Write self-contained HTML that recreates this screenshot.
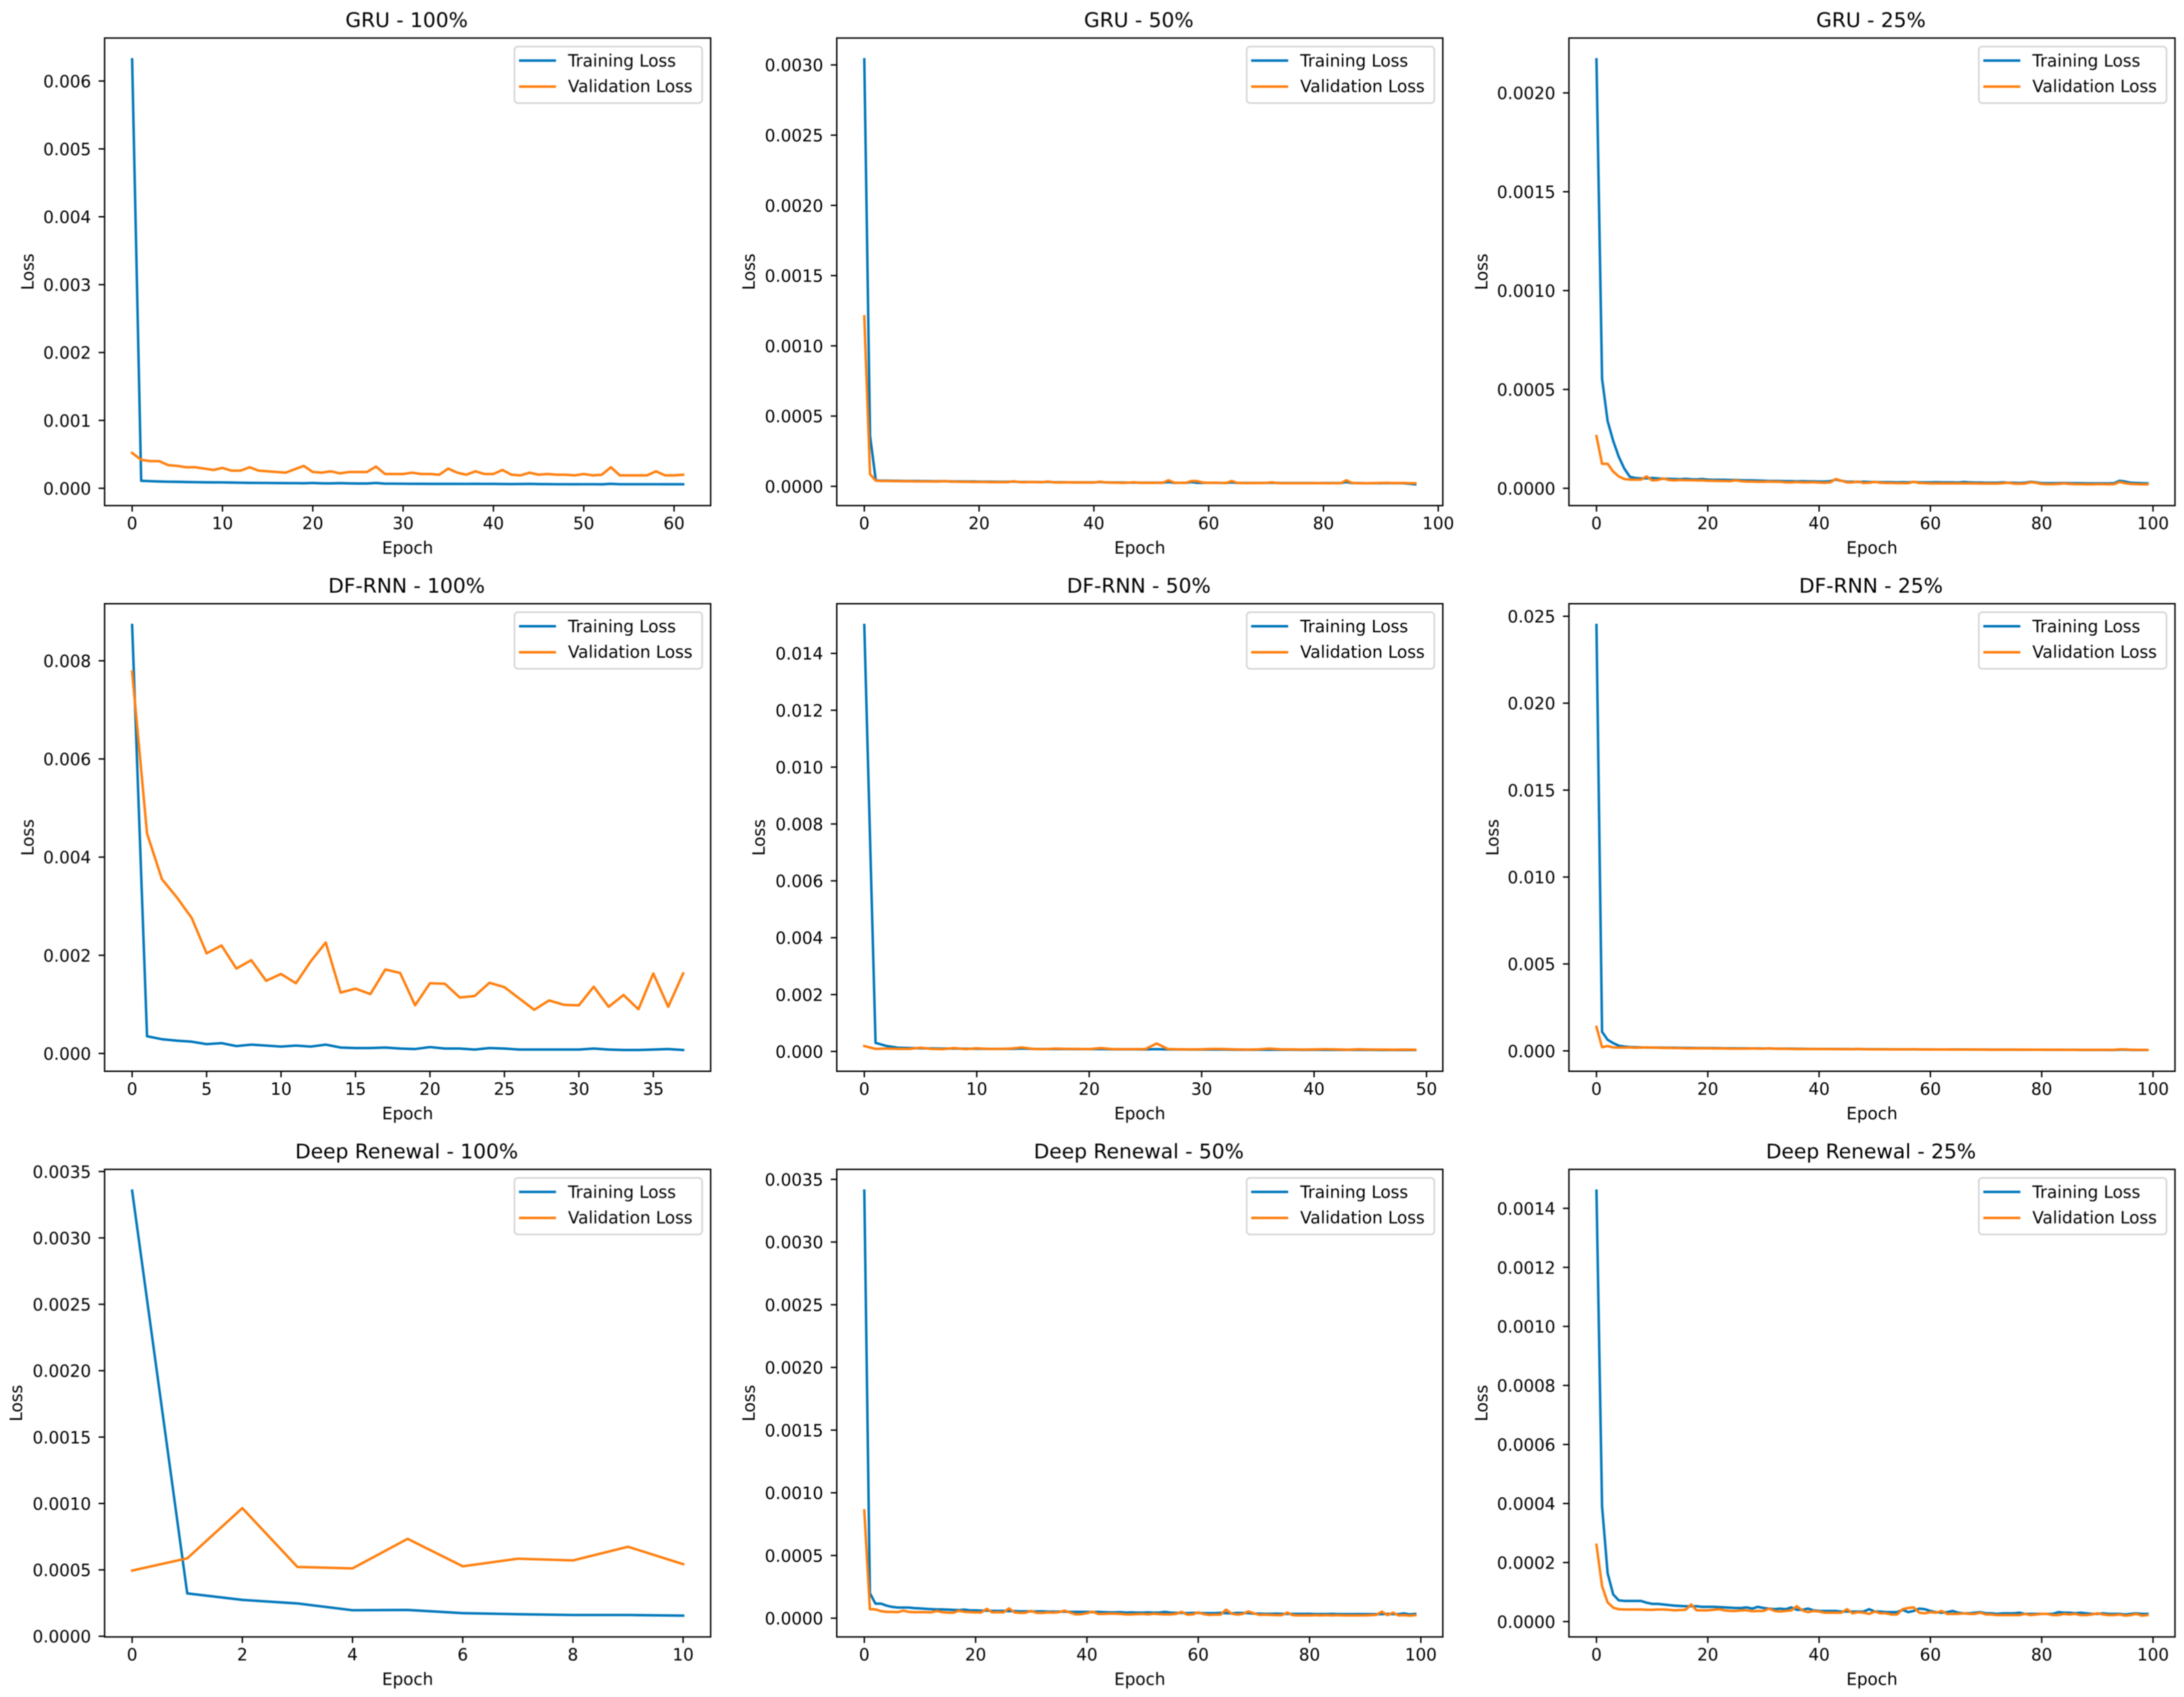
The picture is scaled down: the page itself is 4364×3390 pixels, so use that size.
<!DOCTYPE html>
<html lang="en">
<head>
<meta charset="utf-8">
<title>Training and Validation Loss</title>
<style>
html,body{margin:0;padding:0;background:#fff;}
#chart{display:block;width:4364px;height:3390px;background:#fff;filter:blur(1px);}
text{font-family:"DejaVu Sans","Liberation Sans",sans-serif;fill:#000;}
</style>
</head>
<body>
<svg id="chart" xmlns="http://www.w3.org/2000/svg" width="4364" height="3390" viewBox="0 0 4364 3390"></svg>
<script>
// Loss values are in units of 1e-6.
const UNIT = 1e-6;

const gru100Train = [6320,110,105,100,97,95,92,90,88,87,
86,84,82,80,79,78,77,76,75,74,
78,73,72,76,72,70,70,78,68,68,
67,66,66,65,65,65,65,64,66,64,
65,63,62,63,65,62,61,60,60,59,
60,60,58,66,60,60,60,60,60,59,
59,59];
const gru100Val = [520,420,400,400,340,330,310,310,290,270,
300,260,260,310,260,250,240,230,280,330,
240,230,250,220,240,240,240,320,210,210,
210,230,210,210,200,290,230,200,250,210,
210,270,200,190,230,200,210,200,200,190,
210,190,200,310,190,190,190,190,250,190,
190,200];

const gru50Train = [3040,360,42,40,40,39,39,38,38,38,
37,37,36,36,37,35,35,35,34,34,
33,33,33,32,32,32,34,31,31,31,
31,30,32,29,29,29,28,28,28,28,
28,31,28,27,27,27,26,27,26,26,
26,26,26,30,25,25,25,30,25,25,
25,25,24,24,28,24,24,24,24,24,
24,25,24,23,23,23,23,23,23,23,
23,23,23,23,30,23,23,22,22,22,
22,23,22,22,22,18,14];
const gru50Val = [1210,86,40,38,38,37,37,36,36,35,
35,35,34,34,38,33,33,32,32,31,
31,31,30,30,30,30,36,30,29,31,
30,29,34,28,27,28,28,27,28,27,
27,33,28,26,26,25,26,29,25,25,
25,25,25,43,26,25,24,38,37,27,
24,26,24,23,38,24,23,23,23,23,
24,28,23,22,22,22,22,22,22,23,
22,22,22,22,43,24,22,22,22,23,
24,25,23,23,24,22,22];

const gru25Train = [2170,554,340,240,160,100,58,52,50,50,
52,50,48,48,47,46,48,46,45,47,
44,43,43,43,42,42,41,40,40,39,
38,37,37,37,36,36,35,36,35,35,
34,34,36,44,38,33,33,32,33,32,
32,31,31,31,30,31,30,32,30,30,
30,31,30,30,30,29,32,30,29,29,
28,28,28,30,28,28,27,28,33,30,
26,26,26,26,27,26,26,26,25,25,
25,25,25,26,38,34,28,27,26,25];
const gru25Val = [264,124,124,85,60,47,44,44,44,60,
40,42,50,42,40,42,41,41,40,40,
38,38,37,37,36,40,36,34,34,33,
33,34,33,33,30,30,32,30,30,31,
29,28,30,47,38,30,30,34,27,28,
33,28,27,27,26,26,26,33,27,26,
25,25,25,25,25,25,25,25,25,24,
24,24,24,26,28,24,23,24,31,28,
22,21,21,22,25,22,21,21,20,20,
21,21,20,21,32,26,22,21,20,20];

const dfrnn100Train = [8730,350,290,260,240,190,210,150,180,160,
140,160,140,180,120,110,110,120,100,90,
130,100,100,80,110,100,80,80,80,80,
80,100,80,70,70,80,90,70];
const dfrnn100Val = [7780,4480,3550,3180,2760,2040,2200,1730,1900,1480,
1620,1430,1880,2260,1240,1320,1210,1710,1640,980,
1430,1420,1140,1170,1440,1350,1120,890,1080,990,
980,1360,950,1190,900,1630,950,1630];

const dfrnn50Train = [15000,300,190,130,120,110,105,100,100,95,
95,90,90,90,100,90,85,85,85,80,
80,85,75,75,75,70,80,70,70,65,
65,65,65,60,60,60,60,60,60,55,
60,55,55,55,55,55,50,50,50,50];
const dfrnn50Val = [190,90,100,90,90,130,90,80,120,80,
110,90,90,100,140,90,80,100,90,90,
80,120,85,80,80,85,280,85,75,70,
75,90,85,70,65,70,100,75,70,65,
70,80,70,60,75,65,65,60,65,60];

const dfrnn25Train = [24500,1100,640,450,300,250,220,210,200,190,
190,190,185,180,180,175,170,170,165,165,
160,160,155,150,150,145,145,140,140,140,
135,140,130,130,125,125,120,120,115,115,
110,110,110,105,105,105,100,110,100,100,
95,95,95,90,90,90,90,90,85,85,
85,80,80,80,80,80,80,75,75,75,
75,70,70,70,70,70,65,65,65,65,
65,60,60,60,60,60,60,55,55,55,
55,55,50,50,70,70,55,50,50,50];
const dfrnn25Val = [1380,210,280,200,190,190,200,180,190,200,
190,180,170,170,160,160,150,150,150,150,
150,140,140,140,130,130,130,130,140,130,
125,150,125,120,120,115,110,110,110,110,
105,105,105,100,100,100,95,115,95,95,
90,90,90,90,85,85,85,100,85,80,
80,80,80,80,75,75,75,85,75,75,
70,70,70,70,70,75,70,70,70,65,
65,65,65,65,60,60,60,60,60,60,
60,60,60,60,90,85,65,60,60,55];

const renewal100Train = [3356,323,274,247,196,198,174,166,160,160,155];
const renewal100Val = [495,587,965,522,511,734,527,584,571,674,543];

const renewal50Train = [3410,200,116,116,100,90,85,85,85,80,
78,75,72,70,70,68,66,64,68,62,
62,60,60,58,58,58,56,56,55,55,
54,54,55,52,52,52,52,50,50,50,
50,48,50,48,46,46,48,45,46,44,
44,46,44,44,50,44,42,42,40,42,
42,40,40,40,42,40,38,42,42,40,
36,36,35,35,36,35,34,34,34,34,
35,33,33,33,34,33,32,32,32,33,
32,32,32,32,34,32,32,38,30,34];
const renewal50Val = [860,72,70,56,50,50,48,60,50,48,
48,48,46,58,48,44,44,60,50,48,
46,46,74,46,48,46,78,46,42,44,
58,42,42,46,44,48,60,44,30,32,
40,52,34,34,36,36,34,30,30,32,
34,30,36,32,30,30,34,50,28,30,
46,32,26,28,28,68,36,28,34,54,
38,26,28,26,24,24,44,24,22,22,
22,24,22,24,22,24,22,22,22,22,
22,24,26,52,24,44,22,24,20,24];

const renewal25Train = [1460,390,164,92,72,70,70,70,70,64,
60,60,58,56,54,53,52,52,52,50,
50,50,49,48,47,46,46,48,44,50,
46,44,42,44,42,48,40,40,44,38,
36,36,36,36,34,34,34,34,34,42,
34,34,32,32,32,40,32,36,44,42,
36,32,30,32,36,30,28,28,30,32,
28,28,26,28,28,28,30,26,26,26,
26,26,26,32,30,30,28,30,28,26,
26,28,26,26,26,24,26,28,26,26];
const renewal25Val = [260,120,65,47,42,41,41,41,41,40,
40,41,41,40,38,39,40,58,38,38,
38,40,42,38,36,36,38,38,35,36,
36,44,36,34,36,38,52,38,32,36,
34,30,30,30,30,42,28,32,30,26,
34,28,28,24,24,42,46,48,30,28,
32,30,36,26,26,26,28,26,26,30,
24,24,22,22,22,22,22,26,22,24,
26,26,22,22,26,24,26,22,22,24,
28,24,22,22,24,20,22,26,20,22];

const panelTitles = ["GRU - 100%","GRU - 50%","GRU - 25%","DF-RNN - 100%","DF-RNN - 50%","DF-RNN - 25%","Deep Renewal - 100%","Deep Renewal - 50%","Deep Renewal - 25%"];
const trainSeries = [gru100Train,gru50Train,gru25Train,dfrnn100Train,dfrnn50Train,dfrnn25Train,renewal100Train,renewal50Train,renewal25Train];
const valSeries = [gru100Val,gru50Val,gru25Val,dfrnn100Val,dfrnn50Val,dfrnn25Val,renewal100Val,renewal50Val,renewal25Val];

const xTickLabels = [
  ["0","10","20","30","40","50","60"],
  ["0","20","40","60","80","100"],
  ["0","20","40","60","80","100"],
  ["0","5","10","15","20","25","30","35"],
  ["0","10","20","30","40","50"],
  ["0","20","40","60","80","100"],
  ["0","2","4","6","8","10"],
  ["0","20","40","60","80","100"],
  ["0","20","40","60","80","100"]
];
const yTickLabels = [
  ["0.000","0.001","0.002","0.003","0.004","0.005","0.006"],
  ["0.0000","0.0005","0.0010","0.0015","0.0020","0.0025","0.0030"],
  ["0.0000","0.0005","0.0010","0.0015","0.0020"],
  ["0.000","0.002","0.004","0.006","0.008"],
  ["0.000","0.002","0.004","0.006","0.008","0.010","0.012","0.014"],
  ["0.000","0.005","0.010","0.015","0.020","0.025"],
  ["0.0000","0.0005","0.0010","0.0015","0.0020","0.0025","0.0030","0.0035"],
  ["0.0000","0.0005","0.0010","0.0015","0.0020","0.0025","0.0030","0.0035"],
  ["0.0000","0.0002","0.0004","0.0006","0.0008","0.0010","0.0012","0.0014"]
];

const PLOT_W = 1211, PLOT_H = 934, LINE_W = 4.95, TRAIN_COLOR = "#0077bb", VAL_COLOR = "#ff7f0e";
const colLeft = [209, 1672, 3135];
const rowTop = [76, 1206, 2336];
const yLabelRight = [67, 1508, 2972, 67, 1528, 2994, 44, 1508, 2972];
const svg = document.getElementById("chart");
const NS = "http://www.w3.org/2000/svg";

function make(tag, parent, props) {
  const el = document.createElementNS(NS, tag);
  for (const k in props) el.setAttribute(k, props[k]);
  parent.appendChild(el);
  return el;
}
function slug(s) {
  return s.toLowerCase().replace(/%/g, "").replace(/[^a-z0-9]+/g, "-").replace(/-+$/, "");
}

panelTitles.forEach(function (title, p) {
  const left = colLeft[p % 3], top = rowTop[Math.floor(p / 3)];
  const right = left + PLOT_W, bottom = top + PLOT_H;
  const train = trainSeries[p], val = valSeries[p];
  const n = train.length;
  const all = train.concat(val);
  const dataMax = Math.max.apply(null, all) * UNIT, dataMin = Math.min.apply(null, all) * UNIT;
  const margin = (dataMax - dataMin) * 0.05;
  const yLo = dataMin - margin, yHi = dataMax + margin;
  const xPad = (n - 1) * 0.05;
  const xScale = function (v) { return left + (v + xPad) / (n - 1 + 2 * xPad) * PLOT_W; };
  const yScale = function (v) { return bottom - (v - yLo) / (yHi - yLo) * PLOT_H; };
  const base = slug(title);

  const g = make("g", svg, {});
  
  

  const titleEl = make("text", g, {x: left + PLOT_W / 2 - 2, y: top - 22, "text-anchor": "middle", "font-size": 40.4});
  
  
  titleEl.textContent = title;

  function drawLine(values, color, name) {
    const pts = values.map(function (v, i) { return xScale(i).toFixed(1) + "," + yScale(v * UNIT).toFixed(1); }).join(" ");
    const line = make("polyline", g, {points: pts, fill: "none", stroke: color, "stroke-width": LINE_W, "stroke-linejoin": "round", "stroke-linecap": "square"});
    
    
  }
  drawLine(train, TRAIN_COLOR, 'training-loss-line');
  drawLine(val, VAL_COLOR, 'validation-loss-line');

  const frame = make("rect", g, {x: left, y: top, width: PLOT_W, height: PLOT_H, fill: "none", stroke: "#000", "stroke-width": 2.8});
  
  

  xTickLabels[p].forEach(function (label) {
    const x = xScale(parseFloat(label));
    const tick = make("line", g, {x1: x, x2: x, y1: bottom, y2: bottom + 12, stroke: "#000", "stroke-width": 2.8});
    
    
    const t = make("text", g, {x: x, y: bottom + 47, "text-anchor": "middle", "font-size": 33.4});
    
    
    t.textContent = label;
  });
  yTickLabels[p].forEach(function (label) {
    const y = yScale(parseFloat(label));
    const tick = make("line", g, {x1: left - 12, x2: left, y1: y, y2: y, stroke: "#000", "stroke-width": 2.8});
    
    
    const t = make("text", g, {x: left - 27, y: y + 12.5, "text-anchor": "end", "font-size": 33.4});
    
    
    t.textContent = label;
  });

  const xTitle = make("text", g, {x: left + PLOT_W / 2, y: bottom + 96, "text-anchor": "middle", "font-size": 33.4});
  
  
  xTitle.textContent = "Epoch";

  const ly = top + PLOT_H / 2, lx = yLabelRight[p];
  const yTitle = make("text", g, {x: lx, y: ly, "text-anchor": "middle", "font-size": 33.4, transform: "rotate(-90 " + lx + " " + ly + ")"});
  
  
  yTitle.textContent = "Loss";

  const legend = make("g", g, {});
  
  
  const box = make("rect", legend, {x: right - 392, y: top + 17, width: 375, height: 113, rx: 7, ry: 7, fill: "#fff", "fill-opacity": 0.8, stroke: "#ccc", "stroke-opacity": 0.8, "stroke-width": 3.3});
  
  
  const h1 = make("line", legend, {x1: right - 383, x2: right - 309, y1: top + 45, y2: top + 45, stroke: TRAIN_COLOR, "stroke-width": LINE_W});
  
  
  const t1 = make("text", legend, {x: right - 285, y: top + 57, "font-size": 33.4});
  
  
  t1.textContent = "Training Loss";
  const h2 = make("line", legend, {x1: right - 383, x2: right - 309, y1: top + 97, y2: top + 97, stroke: VAL_COLOR, "stroke-width": LINE_W});
  
  
  const t2 = make("text", legend, {x: right - 285, y: top + 108, "font-size": 33.4});
  
  
  t2.textContent = "Validation Loss";
});
</script>
</body>
</html>
